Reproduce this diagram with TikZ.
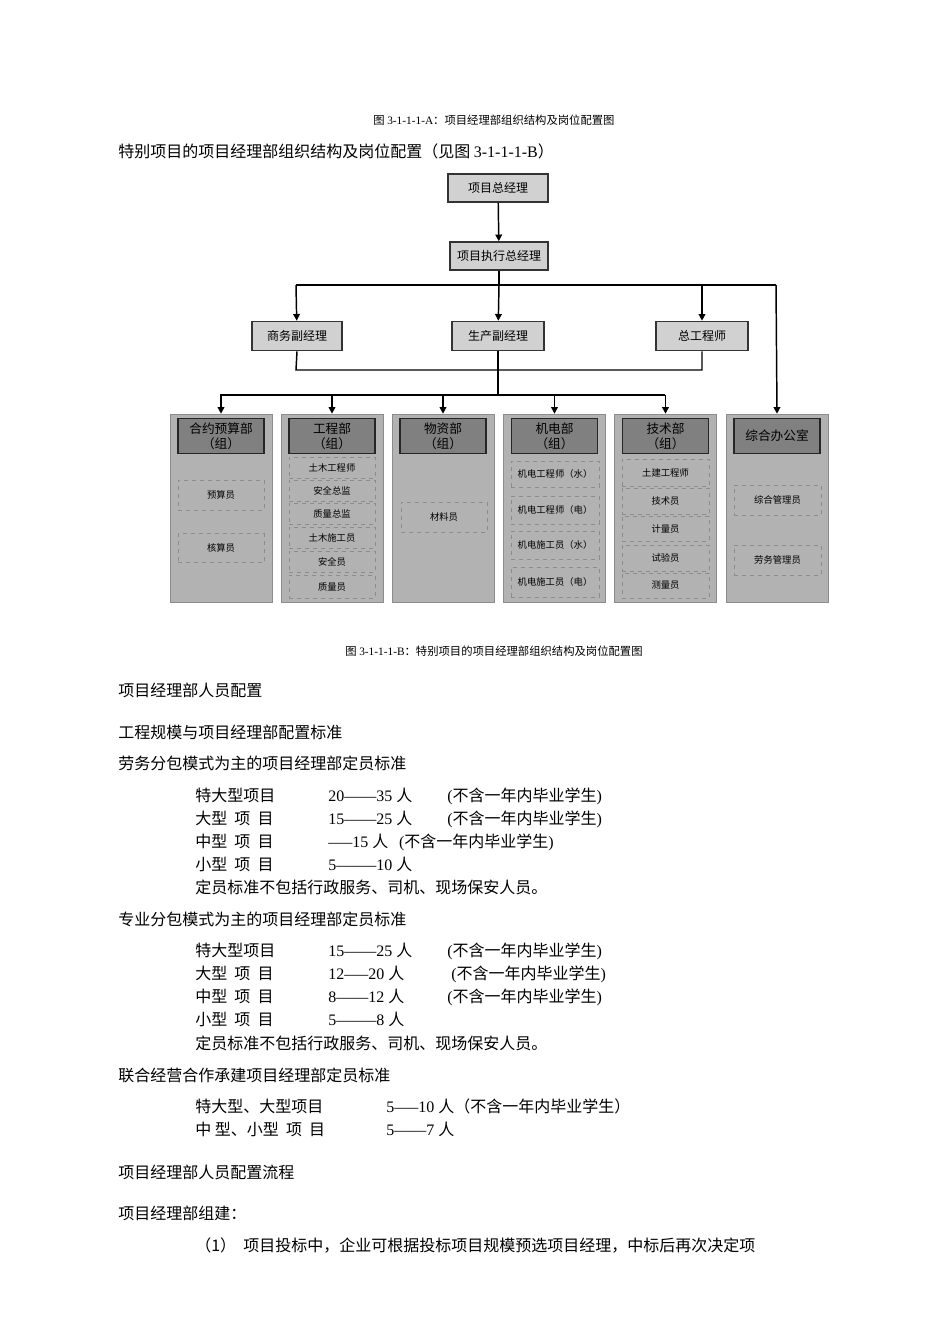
\documentclass[tikz,border=0pt]{standalone}
\usepackage{fontspec}
\setmainfont{Liberation Serif}
\newfontfamily\cjk{Noto Sans CJK SC}
\usetikzlibrary{arrows.meta}
\begin{document}
\begin{tikzpicture}[x=0.75pt,y=-0.75pt,
 topbox/.style={draw=black!80,line width=1.2pt,fill=black!18,inner sep=0pt,font=\cjk\fontsize{9}{10}\selectfont},
 panel/.style={draw=black!45,fill=black!30,inner sep=0pt},
 head/.style={draw=black!85,line width=1.2pt,fill=black!50,inner sep=0pt,align=center,font=\cjk\fontsize{9.5}{11}\selectfont},
 item/.style={draw=black!45,dashed,inner sep=0pt,font=\cjk\fontsize{7}{8}\selectfont},
 conn/.style={line width=1.1pt},
 arr/.style={conn,-{Triangle[length=5pt,width=5pt]}},
 body/.style={anchor=base west,inner sep=0pt,font=\fontsize{12}{14}\selectfont},
 captxt/.style={anchor=base,inner sep=0pt,font=\fontsize{8.5}{10}\selectfont}]
\useasboundingbox (0,0) rectangle (950,1344);
\fill[white] (0,0) rectangle (950,1344);
\node[captxt] (capA) at (494,125) {\cjk 图 {\rmfamily 3-1-1-1-A}：项目经理部组织结构及岗位配置图};
\node[body] (t0) at (118,158) {\cjk 特别项目的项目经理部组织结构及岗位配置（见图 {\rmfamily 3-1-1-1-B}）};
% top
\node[topbox,minimum width=100*0.75pt,minimum height=28*0.75pt] (gm) at (498,188) {项目总经理};
\node[topbox,minimum width=98*0.75pt,minimum height=28*0.75pt] (ex) at (499,256) {项目执行总经理};
\node[topbox,minimum width=90*0.75pt,minimum height=29*0.75pt] (sw) at (297,336) {商务副经理};
\node[topbox,minimum width=92*0.75pt,minimum height=29*0.75pt] (sc) at (498,336) {生产副经理};
\node[topbox,minimum width=92*0.75pt,minimum height=29*0.75pt] (zg) at (702,336) {总工程师};
% panels
\foreach \i/\x in {1/221,2/332,3/443,4/554.5,5/665.5,6/777}{
 \node[panel,minimum width=102*0.75pt,minimum height=188*0.75pt] (p\i) at (\x,508) {};}
\node[head,minimum width=86*0.75pt,minimum height=35*0.75pt] (h1) at (221,436) {合约预算部\\（组）};
\node[head,minimum width=86*0.75pt,minimum height=35*0.75pt] (h2) at (332,436) {工程部\\（组）};
\node[head,minimum width=86*0.75pt,minimum height=35*0.75pt] (h3) at (443,436) {物资部\\（组）};
\node[head,minimum width=86*0.75pt,minimum height=35*0.75pt] (h4) at (554.5,436) {机电部\\（组）};
\node[head,minimum width=86*0.75pt,minimum height=35*0.75pt] (h5) at (665.5,436) {技术部\\（组）};
\node[head,minimum width=86*0.75pt,minimum height=35*0.75pt] (h6) at (777,436) {综合办公室};
% items
\node[item,minimum width=86*0.75pt,minimum height=30*0.75pt] (a1) at (221,495) {预算员};
\node[item,minimum width=86*0.75pt,minimum height=29*0.75pt] (a2) at (221,548) {核算员};
\foreach \n/\y/\h/\t in {b1/467.5/21/土木工程师,b2/490.5/21/安全总监,b3/513.5/21/质量总监,b4/537.5/21/土木施工员,b5/561.5/21/安全员,b6/586.5/23/质量员}{
 \node[item,minimum width=86*0.75pt,minimum height=\h*0.75pt] (\n) at (332,\y) {\t};}
\node[item,minimum width=86*0.75pt,minimum height=30*0.75pt] (m1) at (444,517) {材料员};
\foreach \n/\y/\h/\t in {d1/474/26/机电工程师（水）,d2/510/28/机电工程师（电）,d3/545/28/机电施工员（水）,d4/582/30/机电施工员（电）}{
 \node[item,minimum width=88*0.75pt,minimum height=\h*0.75pt] (\n) at (555,\y) {\t};}
\foreach \n/\y/\h/\t in {e1/472.5/27/土建工程师,e2/501/26/技术员,e3/528.5/25/计量员,e4/558/26/试验员,e5/585.5/25/测量员}{
 \node[item,minimum width=87*0.75pt,minimum height=\h*0.75pt] (\n) at (665.5,\y) {\t};}
\node[item,minimum width=87*0.75pt,minimum height=30*0.75pt] (f1) at (777.5,500) {综合管理员};
\node[item,minimum width=87*0.75pt,minimum height=30*0.75pt] (f2) at (777.5,560) {劳务管理员};
% connectors
\draw[arr] (gm) -- (ex);
\coordinate (j1) at (499,285);
\draw[conn] (ex) -- (j1);
\draw[conn] (296,285) -- (776,285);
\draw[arr] (296,285) -- (sw);
\draw[arr] (j1) -- (sc);
\draw[arr] (702,285) -- (zg);
\draw[arr] (776,285) -- (p6.north);
\draw[conn] (sw.south) -- (296,370) -- (702,370) -- (zg.south);
\draw[conn] (sc.south) -- (498,395);
\draw[conn] (220,395) -- (665,395);
\foreach \i/\x in {1/221,2/332,3/443,4/554.5,5/665.5}{\draw[arr] (\x,395) -- (p\i.north);}
\node[captxt] (capB) at (494,655) {\cjk 图 {\rmfamily 3-1-1-1-B}：特别项目的项目经理部组织结构及岗位配置图};
% body text
\node[body] (s1) at (118,696) {\cjk 项目经理部人员配置};
\node[body] (s2) at (118,738) {\cjk 工程规模与项目经理部配置标准};
\node[body] (s3) at (118,769) {\cjk 劳务分包模式为主的项目经理部定员标准};
\foreach \y/\a/\b/\c in {801/特大型项目/20------35 \cjk 人/(\cjk 不含一年内毕业学生\rmfamily ),824/大型\ \ 项\ \ 目/15------25 \cjk 人/(\cjk 不含一年内毕业学生\rmfamily ),847/中型\ \ 项\ \ 目/-----15 \cjk 人\ \ \ \rmfamily(\cjk 不含一年内毕业学生\rmfamily )/,870/小型\ \ 项\ \ 目/5--------10 \cjk 人/}{
 \node[body] at (195,\y) {\cjk \a}; \node[body] at (328,\y) {\b}; \node[body] at (447,\y) {\c};}
\node[body] (s4) at (195,893) {\cjk 定员标准不包括行政服务、司机、现场保安人员。};
\node[body] (s5) at (118,925) {\cjk 专业分包模式为主的项目经理部定员标准};
\foreach \y/\a/\b/\c/\xc in {956/特大型项目/15------25 \cjk 人/(\cjk 不含一年内毕业学生\rmfamily )/447,979/大型\ \ 项\ \ 目/12-----20 \cjk 人/(\cjk 不含一年内毕业学生\rmfamily )/451,1002/中型\ \ 项\ \ 目/8------12 \cjk 人/(\cjk 不含一年内毕业学生\rmfamily )/447,1025/小型\ \ 项\ \ 目/5--------8 \cjk 人//447}{
 \node[body] at (195,\y) {\cjk \a}; \node[body] at (328,\y) {\b}; \node[body] at (\xc,\y) {\c};}
\node[body] (s6) at (195,1049) {\cjk 定员标准不包括行政服务、司机、现场保安人员。};
\node[body] (s7) at (118,1081) {\cjk 联合经营合作承建项目经理部定员标准};
\node[body] at (195,1112) {\cjk 特大型、大型项目};
\node[body] at (386,1112) {5-----10 \cjk 人（不含一年内毕业学生）};
\node[body] at (195,1135) {\cjk 中\ 型、小型\ \ 项\ \ 目};
\node[body] at (386,1135) {5------7 \cjk 人};
\node[body] (s8) at (118,1178) {\cjk 项目经理部人员配置流程};
\node[body] (s9) at (118,1219) {\cjk 项目经理部组建：};
\node[body] (s10) at (195,1251) {\cjk （1）\ \ 项目投标中，企业可根据投标项目规模预选项目经理，中标后再次决定项};
\end{tikzpicture}
\end{document}
